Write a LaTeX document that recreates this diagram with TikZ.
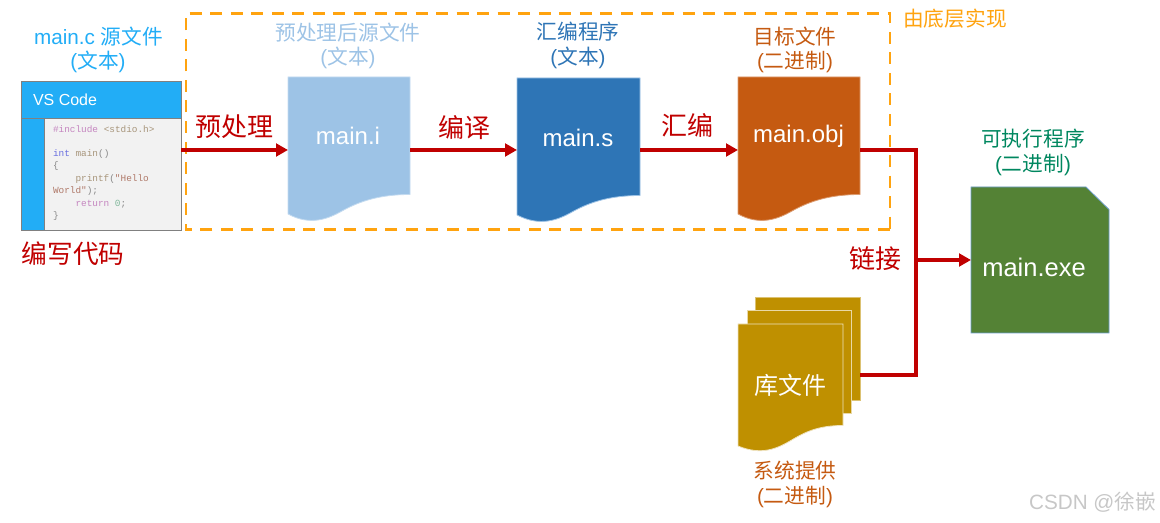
\documentclass[tikz,border=0pt]{standalone}
\usepackage{fontspec}
\setmainfont{Liberation Sans}
\newfontfamily\cjk{Noto Sans CJK SC}
\newfontfamily\codefont{Liberation Mono}
\usetikzlibrary{arrows.meta}
\definecolor{redc}{HTML}{C00000}
\definecolor{orangeb}{HTML}{FFA30F}
\definecolor{vsblue}{HTML}{22ADF6}
\definecolor{lightb}{HTML}{9DC3E6}
\definecolor{midb}{HTML}{2E75B6}
\definecolor{rust}{HTML}{C55A11}
\definecolor{gold}{HTML}{BF9000}
\definecolor{leaf}{HTML}{548235}
\definecolor{teal}{HTML}{00875F}
\definecolor{cpurple}{HTML}{C586C0}
\definecolor{ctan}{HTML}{A8967C}
\definecolor{cblue}{HTML}{6A70E0}
\definecolor{cbrown}{HTML}{B07A6A}
\definecolor{cgreen}{HTML}{7FB79A}
\definecolor{cgrey}{HTML}{8A8A8A}
\newcommand{\szf}[1]{\fontsize{\dimexpr#1pt*3/4\relax}{\dimexpr#1pt\relax}\selectfont}
\tikzset{
  x=0.75pt,y=-0.75pt,
  txt/.style={inner sep=0pt,outer sep=0pt,align=center},
  anchorbox/.style={inner sep=0pt,outer sep=0pt,minimum width=#1*0.75pt},
  redlabel/.style={txt,text=redc,font=\cjk\szf{26}},
  caption/.style={txt,font=\szf{20.7}},
  filename/.style={txt,text=white,font=\szf{24}},
  codeline/.style={inner sep=0pt,outer sep=0pt,anchor=west,font=\codefont\szf{9.4}},
  flow/.style={draw=redc,line width=2.7pt,-{Triangle[length=9pt,width=9.5pt]}},
  plainflow/.style={draw=redc,line width=2.7pt,line join=miter},
}
% #1 left, #2 top, #3 right, #4 colour, #5 rim colour
\newcommand{\docshape}[5]{%
  \path[fill=#4,draw=#5,line width=0.6pt] (#1,#2) -- (#3,#2) -- (#3,194.5+#2-77)
    .. controls (#3-30,194.5+#2-77) and (#3-50,201+#2-77) .. (#3-68,211+#2-77)
    .. controls (#3-82,219+#2-77) and (#3-100,226+#2-77) .. (#1,214+#2-77) -- cycle;}
\begin{document}
\begin{tikzpicture}
\useasboundingbox (0,0) rectangle (1160,523);
% dashed frame
\draw[orangeb,line width=2.1pt,dash pattern=on 9pt off 6.4pt] (890,229.8) -- (186,229.8) -- (186,13.5) -- (890,13.5) -- cycle;
\node[txt,text=orangeb,font=\cjk\szf{20.7}] (frameLabel) at (955,19) {由底层实现};

% VS Code window
\fill[vsblue] (21,81) rectangle (181,230);
\fill[black!5] (44,118) rectangle (181,230);
\draw[gray,line width=0.6pt] (21,81) rectangle (181,230);
\draw[gray,line width=0.6pt] (21,118) -- (181,118) (44,118) -- (44,230);
\node[anchorbox=160,minimum height=149*0.75pt] (vscode) at (101,150) {};
\node[txt,text=white,font=\szf{16},anchor=west] (vslabel) at (33,100) {VS Code};
\node[codeline] (c1) at (53,129) {\textcolor{cpurple}{\#include} \textcolor{ctan}{<stdio.h>}};
\node[codeline] (c2) at (53,154) {\textcolor{cblue}{int} \textcolor{ctan}{main}\textcolor{cgrey}{()}};
\node[codeline,text=cgrey] (c3) at (53,166) {\{};
\node[codeline] (c4) at (75.5,179) {\textcolor{ctan}{printf}\textcolor{cgrey}{(}\textcolor{cbrown}{"Hello}};
\node[codeline] (c5) at (53,191) {\textcolor{cbrown}{World"}\textcolor{cgrey}{);}};
\node[codeline] (c6) at (75.5,204) {\textcolor{cpurple}{return} \textcolor{cgreen}{0}\textcolor{cgrey}{;}};
\node[codeline,text=cgrey] (c7) at (53,216) {\}};

\node[caption,text=vsblue] (srcA) at (98.5,37) {main.c {\cjk 源文件}};
\node[caption,text=vsblue] (srcB) at (98,62) {({\cjk 文本})};
\node[txt,text=redc,font=\cjk\szf{25.7}] (write) at (73,254) {编写代码};

% document shapes
\docshape{288}{77}{410}{lightb}{lightb!60}
\node[anchorbox=122,minimum height=146*0.75pt] (mainI) at (349,150) {};
\node[filename] (mainIt) at (348,136) {main.i};
\node[caption,text=lightb] (iA) at (348,33) {\cjk 预处理后源文件};
\node[caption,text=lightb] (iB) at (348,58) {({\cjk 文本})};

\docshape{517}{78}{640}{midb}{lightb}
\node[anchorbox=123,minimum height=144*0.75pt] (mainS) at (578.5,150) {};
\node[filename] (mainSt) at (578,138) {main.s};
\node[caption,text=midb] (sA) at (578,32) {\cjk 汇编程序};
\node[caption,text=midb] (sB) at (578,58) {({\cjk 文本})};

\docshape{738}{77}{860}{rust}{rust!60}
\node[anchorbox=122,minimum height=146*0.75pt] (mainO) at (799,150) {};
\node[filename] (mainOt) at (798.5,136) {main.obj};
\node[caption,text=rust] (oA) at (795,37) {\cjk 目标文件};
\node[caption,text=rust] (oB) at (795,62) {({\cjk 二进制})};

% library stack
\path[fill=gold,draw=gold!55,line width=0.6pt] (755,297) -- (860,297) -- (860,400) -- (755,400) -- cycle;
\path[fill=gold,draw=gold!35,line width=0.6pt] (747,310) -- (851,310) -- (851,413) -- (747,413) -- cycle;
\path[fill=gold,draw=gold!25,line width=0.6pt] (738,324) -- (843,324) -- (843,425.5)
  .. controls (818,425.5) and (805,432) .. (790,441)
  .. controls (778,448) and (762,456) .. (738,446) -- cycle;
\node[anchorbox=122,minimum height=156*0.75pt] (lib) at (799,375) {};
\node[txt,text=white,font=\cjk\szf{24}] (libt) at (790.5,385) {库文件};
\node[caption,text=rust] (lA) at (795,471) {\cjk 系统提供};
\node[caption,text=rust] (lB) at (795,497) {({\cjk 二进制})};

% executable
\path[fill=leaf,draw=midb!70,line width=0.6pt] (971,187) -- (1086,187) -- (1109,209.5) -- (1109,333) -- (971,333) -- cycle;
\node[anchorbox=138,minimum height=146*0.75pt] (exe) at (1040,260) {};
\node[filename,font=\szf{25.5}] (exet) at (1034,267) {main.exe};
\node[caption,text=teal] (eA) at (1033,139) {\cjk 可执行程序};
\node[caption,text=teal] (eB) at (1033,165) {({\cjk 二进制})};

% connectors
\coordinate (busTop) at (916,150);
\coordinate (busMid) at (916,260);
\coordinate (busBot) at (916,375);
\draw[flow] (vscode.east) -- (mainI.west);
\draw[flow] (mainI.east) -- (mainS.west);
\draw[flow] (mainS.east) -- (mainO.west);
\draw[plainflow] (mainO.east) -- (busTop) -- (busBot) -- (lib.east);
\draw[flow] (busMid) -- (exe.west);

% operation labels
\node[redlabel] (opP) at (234,127) {预处理};
\node[redlabel] (opC) at (464,128) {编译};
\node[redlabel] (opA) at (687.5,125) {汇编};
\node[redlabel] (opL) at (875,259) {链接};

\node[txt,text=black!22,font=\szf{20.7}] (mark) at (1092.5,502) {CSDN @{\cjk 徐嵌}};
\end{tikzpicture}
\end{document}
